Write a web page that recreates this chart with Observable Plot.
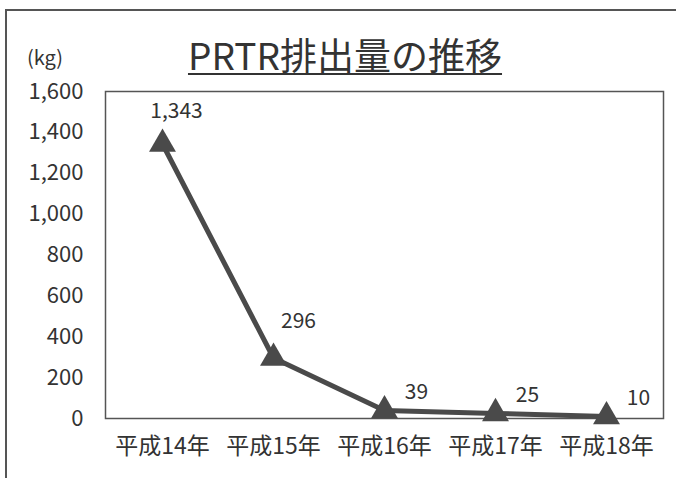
<!DOCTYPE html>
<html>
<head>
<meta charset="utf-8">
<script src="https://cdn.jsdelivr.net/npm/d3@7"></script>
<script src="https://cdn.jsdelivr.net/npm/@observablehq/plot@0.6"></script>
<style>
  html, body { margin: 0; padding: 0; background: #fff; }
  #wrap { position: relative; width: 676px; height: 478px; overflow: hidden; font-family: "Noto Sans CJK JP", "Noto Sans", sans-serif; }
  #border { position: absolute; left: 5px; top: 9px; width: 700px; height: 500px; border-left: 2px solid #555; border-top: 2px solid #555; box-sizing: border-box; }
  #head { position: relative; height: 66px; }
  #title { position: absolute; left: 0; width: 690px; top: 32px; text-align: center; font-size: 37px; line-height: 44px; color: #333; text-decoration: underline; text-decoration-thickness: 2px; text-underline-offset: 3px; }
  #unit { position: absolute; left: 27px; top: 42px; font-size: 20px; color: #333; }
  #chart { position: relative; }
</style>
</head>
<body>
<div id="wrap">
  <div id="border"></div>
  <div id="head">
    <div id="unit">(kg)</div>
    <div id="title">PRTR排出量の推移</div>
  </div>
  <div id="chart"></div>
</div>
<script>
const years = ["平成14年", "平成15年", "平成16年", "平成17年", "平成18年"];
const values = [1343, 296, 39, 25, 10];
const yTicks = [0, 200, 400, 600, 800, 1000, 1200, 1400, 1600];

const data = years.map((y, i) => ({year: y, value: values[i], i}));
const fmt = d3.format(",");

const plot = Plot.plot({
  width: 676,
  height: 412,
  marginTop: 25,
  marginBottom: 60,
  marginLeft: 105,
  marginRight: 13,
  style: {fontFamily: "'Noto Sans CJK JP', 'Noto Sans', sans-serif", color: "#333", background: "transparent"},
  x: {type: "point", domain: years, padding: 0.5, label: null},
  y: {domain: [0, 1600], label: null},
  marks: [
    Plot.frame({stroke: "#555", strokeWidth: 1.5}),
    Plot.axisY({ticks: yTicks, tickFormat: fmt, tickSize: 0, tickPadding: 22, fontSize: 22, label: null}),
    Plot.axisX({tickSize: 0, tickPadding: 19, fontSize: 23, label: null}),
    Plot.line(data, {x: "year", y: "value", stroke: "#4a4a4a", strokeWidth: 5}),
    Plot.dot(data, {x: "year", y: "value", symbol: "triangle", r: 10, fill: "#4a4a4a", stroke: "none"}),
    Plot.text(data.filter(d => d.i === 0), {x: "year", y: "value", text: d => fmt(d.value), dx: 14, dy: -33, fontSize: 21, fill: "#333"}),
    Plot.text(data.filter(d => d.i === 1), {x: "year", y: "value", text: d => fmt(d.value), dx: 25, dy: -37, fontSize: 21, fill: "#333"}),
    Plot.text(data.filter(d => d.i >= 2), {x: "year", y: "value", text: d => fmt(d.value), dx: 32, dy: -18, fontSize: 21, fill: "#333"})
  ]
});
document.getElementById("chart").appendChild(plot);
</script>
</body>
</html>
